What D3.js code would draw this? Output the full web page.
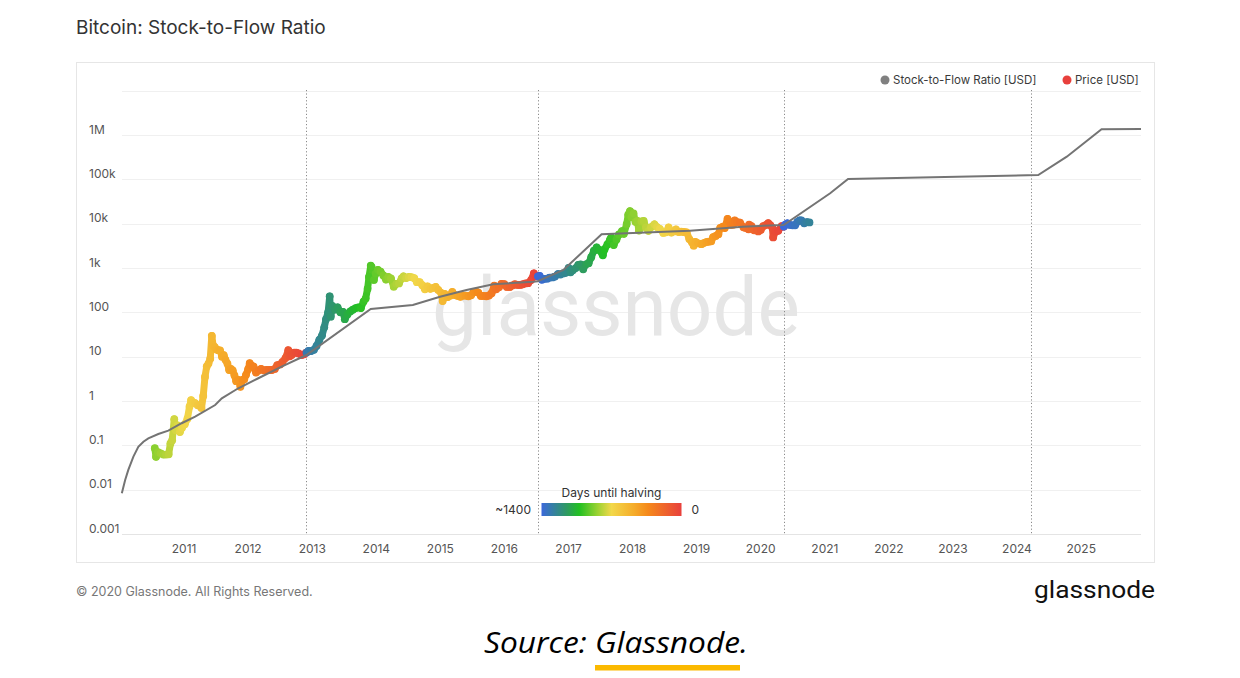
<!DOCTYPE html>
<html>
<head>
<meta charset="UTF-8">
<title>Bitcoin: Stock-to-Flow Ratio</title>
<script src="https://d3js.org/d3.v7.min.js"></script>
<style>
    body {
        margin: 0;
        background: #fff;
        font-family: Inter, Roboto, "Noto Sans", sans-serif;
    }
</style>
</head>
<body>
<script>
    // stock-to-flow model line (date, USD)
    const s2fData = [
        ["2010-01-11", 0.0083], ["2010-01-30", 0.0166], ["2010-02-17", 0.028], ["2010-03-18", 0.0555],
        ["2010-04-15", 0.093], ["2010-05-14", 0.121], ["2010-06-11", 0.144],
        ["2010-08-07", 0.18], ["2010-10-03", 0.214], ["2010-12-18", 0.315], ["2011-03-05", 0.443],
        ["2011-06-27", 0.813], ["2011-08-04", 1.15], ["2011-11-06", 1.94], ["2012-02-28", 3.26],
        ["2012-07-10", 5.95], ["2012-11-28", 10.9], ["2013-11-30", 119], ["2014-07-28", 147],
        ["2014-12-30", 225], ["2015-05-30", 320], ["2015-10-29", 430], ["2016-06-13", 492],
        ["2016-07-09", 505], ["2016-12-02", 904], ["2017-07-08", 5770], ["2018-11-23", 6950],
        ["2019-09-21", 8570], ["2020-05-11", 9350], ["2021-01-31", 48500], ["2021-05-13", 102000],
        ["2024-05-01", 125600], ["2024-10-11", 325000], ["2025-04-27", 1350000], ["2025-12-08", 1370000]
    ];

    // bitcoin price (date, USD)
    const priceData = [
        ["2010-07-18", 0.086], ["2010-07-25", 0.055], ["2010-08-05", 0.07], ["2010-08-20", 0.066],
        ["2010-09-05", 0.062], ["2010-09-20", 0.062], ["2010-10-05", 0.063], ["2010-10-15", 0.11],
        ["2010-10-25", 0.13], ["2010-11-06", 0.39], ["2010-11-15", 0.22], ["2010-11-25", 0.28],
        ["2010-12-08", 0.2], ["2010-12-20", 0.25], ["2011-01-05", 0.3], ["2011-01-20", 0.4],
        ["2011-02-01", 0.75], ["2011-02-10", 1.05], ["2011-02-20", 0.9], ["2011-03-05", 0.9],
        ["2011-03-20", 0.8], ["2011-04-01", 0.78], ["2011-04-10", 0.7], ["2011-04-20", 1.3],
        ["2011-04-30", 3.5], ["2011-05-10", 6.0], ["2011-05-20", 7.0], ["2011-05-30", 9.0],
        ["2011-06-08", 29.6], ["2011-06-15", 18.0], ["2011-06-25", 16.5], ["2011-07-05", 14.5],
        ["2011-07-15", 14.0], ["2011-07-25", 13.8], ["2011-08-05", 10.0], ["2011-08-15", 10.8],
        ["2011-08-25", 8.5], ["2011-09-05", 7.0], ["2011-09-15", 5.0], ["2011-09-25", 5.3],
        ["2011-10-05", 4.9], ["2011-10-15", 3.8], ["2011-10-25", 2.8], ["2011-11-05", 3.0],
        ["2011-11-18", 2.1], ["2011-11-30", 3.0], ["2011-12-10", 3.1], ["2011-12-20", 3.9],
        ["2012-01-01", 5.2], ["2012-01-10", 7.1], ["2012-01-20", 6.3], ["2012-02-01", 6.0],
        ["2012-02-15", 4.4], ["2012-03-01", 4.9], ["2012-03-15", 5.3], ["2012-04-01", 4.9],
        ["2012-04-15", 5.0], ["2012-05-01", 5.0], ["2012-05-15", 5.0], ["2012-06-01", 5.3],
        ["2012-06-15", 6.4], ["2012-07-01", 6.7], ["2012-07-15", 7.6], ["2012-08-01", 9.3],
        ["2012-08-17", 14.0], ["2012-08-25", 10.2], ["2012-09-05", 10.9], ["2012-09-20", 12.3],
        ["2012-10-01", 12.4], ["2012-10-15", 11.8], ["2012-11-01", 10.9], ["2012-11-15", 11.3],
        ["2012-11-27", 12.4], ["2012-11-29", 12.4], ["2012-12-10", 13.5], ["2012-12-25", 13.4],
        ["2013-01-10", 14.3], ["2013-01-25", 17.5], ["2013-02-10", 24], ["2013-02-25", 30],
        ["2013-03-10", 46], ["2013-03-20", 70], ["2013-04-01", 100], ["2013-04-10", 230],
        ["2013-04-16", 80], ["2013-04-25", 140], ["2013-05-10", 115], ["2013-05-25", 130],
        ["2013-06-10", 100], ["2013-06-25", 103], ["2013-07-05", 70], ["2013-07-20", 90],
        ["2013-08-05", 105], ["2013-08-20", 115], ["2013-09-05", 125], ["2013-09-20", 130],
        ["2013-10-05", 125], ["2013-10-20", 175], ["2013-11-01", 205], ["2013-11-12", 340],
        ["2013-11-20", 630], ["2013-11-30", 1130], ["2013-12-05", 1050], ["2013-12-18", 540],
        ["2013-12-28", 750], ["2014-01-10", 910], ["2014-01-25", 830], ["2014-02-10", 680],
        ["2014-02-25", 550], ["2014-03-10", 630], ["2014-03-25", 580], ["2014-04-10", 380],
        ["2014-04-25", 440], ["2014-05-10", 450], ["2014-05-25", 580], ["2014-06-05", 650],
        ["2014-06-20", 595], ["2014-07-05", 630], ["2014-07-20", 620], ["2014-08-05", 590],
        ["2014-08-20", 480], ["2014-09-05", 480], ["2014-09-20", 410], ["2014-10-05", 330],
        ["2014-10-20", 385], ["2014-11-05", 340], ["2014-11-20", 355], ["2014-12-05", 375],
        ["2014-12-20", 320], ["2015-01-05", 275], ["2015-01-14", 180], ["2015-01-25", 260],
        ["2015-02-10", 220], ["2015-02-25", 238], ["2015-03-10", 290], ["2015-03-25", 245],
        ["2015-04-10", 235], ["2015-04-25", 225], ["2015-05-10", 240], ["2015-05-25", 238],
        ["2015-06-10", 230], ["2015-06-25", 243], ["2015-07-10", 290], ["2015-07-25", 290],
        ["2015-08-05", 280], ["2015-08-20", 235], ["2015-09-05", 235], ["2015-09-20", 230],
        ["2015-10-05", 240], ["2015-10-20", 270], ["2015-11-04", 400], ["2015-11-15", 330],
        ["2015-12-01", 370], ["2015-12-15", 440], ["2016-01-01", 430], ["2016-01-15", 375],
        ["2016-02-01", 375], ["2016-02-15", 405], ["2016-03-01", 430], ["2016-03-15", 415],
        ["2016-04-01", 415], ["2016-04-15", 430], ["2016-05-01", 450], ["2016-05-15", 455],
        ["2016-06-01", 535], ["2016-06-17", 760], ["2016-06-28", 645], ["2016-07-08", 650],
        ["2016-07-10", 650], ["2016-07-20", 665], ["2016-08-02", 545], ["2016-08-15", 570],
        ["2016-09-01", 575], ["2016-09-15", 610], ["2016-10-01", 615], ["2016-10-15", 640],
        ["2016-11-01", 730], ["2016-11-15", 715], ["2016-12-01", 755], ["2016-12-15", 780],
        ["2017-01-01", 1000], ["2017-01-12", 800], ["2017-01-25", 895], ["2017-02-10", 995],
        ["2017-02-25", 1180], ["2017-03-10", 1200], ["2017-03-25", 935], ["2017-04-10", 1210],
        ["2017-04-25", 1280], ["2017-05-10", 1760], ["2017-05-25", 2450], ["2017-06-10", 2900],
        ["2017-06-25", 2550], ["2017-07-15", 1930], ["2017-07-25", 2650], ["2017-08-10", 3400],
        ["2017-08-25", 4350], ["2017-09-01", 4900], ["2017-09-15", 3300], ["2017-10-01", 4400],
        ["2017-10-15", 5700], ["2017-11-01", 6750], ["2017-11-12", 5900], ["2017-11-28", 9800],
        ["2017-12-07", 16000], ["2017-12-17", 19300], ["2017-12-25", 14000], ["2018-01-06", 17000],
        ["2018-01-17", 11000], ["2018-01-28", 11500], ["2018-02-06", 7000], ["2018-02-20", 11200],
        ["2018-03-05", 11500], ["2018-03-18", 8200], ["2018-04-01", 6900], ["2018-04-15", 8300],
        ["2018-05-05", 9700], ["2018-05-20", 8400], ["2018-06-05", 7600], ["2018-06-25", 6200],
        ["2018-07-10", 6400], ["2018-07-25", 8200], ["2018-08-10", 6300], ["2018-08-25", 6700],
        ["2018-09-05", 7400], ["2018-09-20", 6500], ["2018-10-05", 6600], ["2018-10-20", 6500],
        ["2018-11-05", 6400], ["2018-11-20", 4500], ["2018-12-05", 3800], ["2018-12-15", 3200],
        ["2018-12-25", 3900], ["2019-01-10", 3600], ["2019-01-28", 3450], ["2019-02-10", 3650],
        ["2019-02-25", 3850], ["2019-03-10", 3920], ["2019-03-25", 4000], ["2019-04-05", 5000],
        ["2019-04-20", 5300], ["2019-05-05", 5800], ["2019-05-15", 8000], ["2019-05-30", 8600],
        ["2019-06-10", 8000], ["2019-06-26", 12900], ["2019-07-05", 11200], ["2019-07-16", 9450],
        ["2019-07-28", 9500], ["2019-08-06", 11800], ["2019-08-20", 10800], ["2019-09-05", 10600],
        ["2019-09-25", 8300], ["2019-10-05", 8100], ["2019-10-24", 7450], ["2019-10-27", 9500],
        ["2019-11-10", 8800], ["2019-11-25", 7100], ["2019-12-10", 7300], ["2019-12-18", 6700],
        ["2020-01-01", 7200], ["2020-01-15", 8800], ["2020-02-01", 9400], ["2020-02-13", 10300],
        ["2020-02-25", 9300], ["2020-03-08", 8000], ["2020-03-12", 4900], ["2020-03-25", 6700],
        ["2020-04-10", 6900], ["2020-04-29", 8800], ["2020-05-10", 8600], ["2020-05-12", 8600],
        ["2020-05-20", 9500], ["2020-06-01", 10200], ["2020-06-15", 9400], ["2020-07-01", 9200],
        ["2020-07-15", 9200], ["2020-07-28", 11000], ["2020-08-10", 11900], ["2020-08-20", 11800],
        ["2020-09-05", 10200], ["2020-09-20", 10900], ["2020-10-05", 10700]
    ];

    const halvings = ["2012-11-28", "2016-07-09", "2020-05-11", "2024-03-21"];
    const yTicks = [0.001, 0.01, 0.1, 1, 10, 100, 1000, 10000, 100000, 1000000, 10000000];
    const yTickLabels = ["0.001", "0.01", "0.1", "1", "10", "100", "1k", "10k", "100k", "1M", ""];
    const xTickYears = [2011, 2012, 2013, 2014, 2015, 2016, 2017, 2018, 2019, 2020, 2021, 2022, 2023, 2024, 2025];
    const colorDays = [1400, 1148, 1022, 840, 700, 476, 336, 0];
    const colorStops = ["#3b68da", "#2e9a62", "#22c022", "#9ad232", "#f2d84a", "#f5ac2a", "#f5891b", "#e8403c"];

    const width = 1240, height = 678;
    const parse = d3.utcParse("%Y-%m-%d");

    const x = d3.scaleUtc().domain([parse("2010-01-12"), parse("2025-12-08")]).range([122, 1141]);
    const y = d3.scaleLog().domain([1e-3, 1e7]).range([534, 90.7]);
    const color = d3.scaleLinear().domain(colorDays).range(colorStops).clamp(true);

    const halvingDates = halvings.map(parse);
    function daysUntilHalving(d) {
        const next = halvingDates.find(h => h >= d);
        return next ? (next - d) / 864e5 : 1400;
    }

    const svg = d3.select("body").append("svg").attr("width", width).attr("height", height);

    svg.append("text").attr("x", 76).attr("y", 34)
        .attr("font-size", 19).attr("fill", "#333").text("Bitcoin: Stock-to-Flow Ratio");

    svg.append("rect").attr("x", 76.5).attr("y", 62.5).attr("width", 1078).attr("height", 500)
        .attr("fill", "none").attr("stroke", "#e6e6e6");

    // grid + y labels
    const grid = svg.append("g");
    grid.selectAll("line").data(yTicks).join("line")
        .attr("x1", 122).attr("x2", 1141)
        .attr("y1", d => Math.round(y(d)) + 0.5).attr("y2", d => Math.round(y(d)) + 0.5)
        .attr("stroke", (d, i) => i === 0 ? "#e4e4e4" : "#f0f0f0");
    grid.selectAll("text").data(yTicks).join("text")
        .attr("x", 89).attr("y", d => y(d) - 5.5).attr("dy", "0.35em")
        .attr("font-size", 12).attr("fill", "#555")
        .text((d, i) => yTickLabels[i]);

    // x labels
    svg.append("g").selectAll("text").data(xTickYears).join("text")
        .attr("x", d => x(Date.UTC(d, 0, 1))).attr("y", 549).attr("dy", "0.35em")
        .attr("text-anchor", "middle").attr("font-size", 12).attr("fill", "#555")
        .text(d => d);

    // watermark
    svg.append("text").attr("x", 616).attr("y", 335).attr("text-anchor", "middle")
        .attr("font-family", "Roboto, sans-serif").attr("font-size", 82)
        .attr("textLength", 368).attr("lengthAdjust", "spacingAndGlyphs")
        .attr("fill", "#e6e6e6").text("glassnode");

    // halving lines
    svg.append("g").selectAll("line").data(halvingDates).join("line")
        .attr("x1", d => Math.round(x(d)) + 0.5).attr("x2", d => Math.round(x(d)) + 0.5)
        .attr("y1", 90).attr("y2", 534)
        .attr("stroke", "#8a8a8a").attr("stroke-dasharray", "1.2,2.2");

    // price: segments coloured by days until halving
    const price = priceData.map(([d, v]) => ({ date: parse(d), value: v }));
    const segs = d3.pairs(price);
    const pg = svg.append("g");
    pg.selectAll("line").data(segs).join("line")
        .attr("x1", d => x(d[0].date)).attr("y1", d => y(d[0].value))
        .attr("x2", d => x(d[1].date)).attr("y2", d => y(d[1].value))
        .attr("stroke", d => color(daysUntilHalving(d[0].date)))
        .attr("stroke-width", 7).attr("stroke-linecap", "round");
    pg.selectAll("circle").data(price).join("circle")
        .attr("cx", d => x(d.date)).attr("cy", d => y(d.value)).attr("r", 3.9)
        .attr("fill", d => color(daysUntilHalving(d.date)));

    // stock-to-flow line
    const s2f = s2fData.map(([d, v]) => ({ date: parse(d), value: v }));
    svg.append("path").datum(s2f)
        .attr("d", d3.line().x(d => x(d.date)).y(d => y(d.value)))
        .attr("fill", "none").attr("stroke", "#747474").attr("stroke-width", 2);

    // legend
    const lg = svg.append("g").attr("font-size", 11.5).attr("fill", "#3a3a3a");
    lg.append("circle").attr("cx", 885).attr("cy", 80).attr("r", 4.5).attr("fill", "#808080");
    lg.append("text").attr("x", 893).attr("y", 80).attr("dy", "0.35em").text("Stock-to-Flow Ratio [USD]");
    lg.append("circle").attr("cx", 1067).attr("cy", 80).attr("r", 4.5).attr("fill", "#e8403c");
    lg.append("text").attr("x", 1075).attr("y", 80).attr("dy", "0.35em").text("Price [USD]");

    // colour bar
    const grad = svg.append("defs").append("linearGradient").attr("id", "cbar");
    grad.selectAll("stop").data(colorDays).join("stop")
        .attr("offset", d => (1400 - d) / 1400)
        .attr("stop-color", (d, i) => colorStops[i]);
    svg.append("rect").attr("x", 541.5).attr("y", 503).attr("width", 140).attr("height", 13)
        .attr("fill", "url(#cbar)");
    svg.append("text").attr("x", 611.5).attr("y", 493).attr("dy", "0.35em").attr("text-anchor", "middle")
        .attr("font-size", 12).attr("fill", "#333").text("Days until halving");
    svg.append("text").attr("x", 531).attr("y", 510).attr("dy", "0.35em").attr("text-anchor", "end")
        .attr("font-size", 12).attr("fill", "#333").text("~1400");
    svg.append("text").attr("x", 691.5).attr("y", 510).attr("dy", "0.35em")
        .attr("font-size", 12).attr("fill", "#333").text("0");

    // footer
    svg.append("text").attr("x", 76).attr("y", 592).attr("dy", "0.35em")
        .attr("font-size", 12.5).attr("fill", "#777").text("© 2020 Glassnode. All Rights Reserved.");
    svg.append("text").attr("x", 1155).attr("y", 598).attr("text-anchor", "end")
        .attr("font-family", "Roboto, sans-serif").attr("font-size", 23)
        .attr("textLength", 121).attr("lengthAdjust", "spacingAndGlyphs")
        .attr("fill", "#111").text("glassnode");

    svg.append("text").attr("x", 616).attr("y", 653).attr("text-anchor", "middle")
        .attr("font-family", "'Open Sans', sans-serif").attr("font-style", "italic").attr("font-size", 30)
        .attr("textLength", 264).attr("lengthAdjust", "spacingAndGlyphs")
        .attr("fill", "#000").text("Source: Glassnode.");
    svg.append("rect").attr("x", 595).attr("y", 665).attr("width", 145).attr("height", 5.5)
        .attr("fill", "#fbb900");
</script>
</body>
</html>
